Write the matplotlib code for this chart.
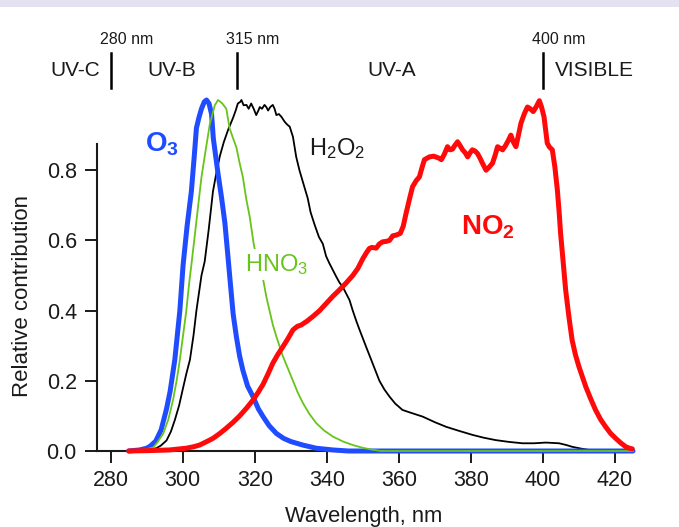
import matplotlib
matplotlib.use("Agg")
import matplotlib.pyplot as plt
from matplotlib.patches import Rectangle

FONT = "Liberation Sans"
plt.rcParams.update({
    "font.family": [FONT, "DejaVu Sans"],
    "mathtext.fontset": "custom",
    "mathtext.rm": FONT,
    "mathtext.it": FONT + ":italic",
    "mathtext.bf": FONT + ":bold",
    "mathtext.sf": FONT,
})

# ---------------- data ----------------
o3_wl = [285, 288, 290, 291, 292.5, 294, 295.5, 296.5, 297.8, 299.2, 300.1, 301.2,
         302.4, 303.2, 303.8, 304.5, 305.2, 306.0, 306.6, 307.3, 308.0, 308.5,
         309.8, 310.8, 311.7, 312.5, 313.2, 314.0, 314.9, 315.8, 316.7, 318.0,
         319.5, 321.0, 322.3, 324, 326, 328, 330, 333.3, 337, 341.6, 346, 425]
o3_val = [0, 0.003, 0.008, 0.014, 0.028, 0.06, 0.12, 0.17, 0.26, 0.40, 0.53, 0.64,
          0.74, 0.84, 0.92, 0.95, 0.975, 0.995, 1.0, 0.99, 0.96, 0.89,
          0.79, 0.72, 0.65, 0.56, 0.48, 0.39, 0.325, 0.27, 0.23, 0.185,
          0.155, 0.12, 0.098, 0.072, 0.05, 0.036, 0.027, 0.017, 0.008, 0.003, 0.0, 0.0]

hno3_wl = [285, 288, 290, 291.8, 293, 294.6, 296, 297.3, 298.3, 299.2, 300.1, 301,
           301.8, 302.4, 303.3, 304.3, 305.2, 306.1, 307.5, 308.9, 309.8, 311.0,
           312.1, 313, 314, 314.9, 315.8, 316.7, 317.6, 318.6, 319.7, 320.5, 321.4,
           322.3, 323.2, 324.1, 325, 326, 327.8, 329.2, 330.6, 332, 333.4, 335.2,
           337.1, 339.3, 341.7, 344.5, 347.2, 350, 352.5, 355, 425]
hno3_val = [0, 0.002, 0.005, 0.01, 0.025, 0.05, 0.09, 0.145, 0.2, 0.26, 0.33, 0.40,
            0.48, 0.53, 0.61, 0.70, 0.78, 0.84, 0.93, 0.985, 1.0, 0.99,
            0.975, 0.92, 0.89, 0.865, 0.82, 0.78, 0.72, 0.667, 0.59, 0.55, 0.52,
            0.49, 0.44, 0.40, 0.36, 0.326, 0.27, 0.235, 0.20, 0.165, 0.136, 0.105,
            0.079, 0.058, 0.041, 0.027, 0.017, 0.009, 0.004, 0.0, 0.0]

h2o2_wl = [285, 289, 291, 292.7, 294, 295.5, 296.7, 297.8, 299, 300.1, 301, 302,
           303, 303.8, 304.5, 305.2, 306.1, 307.2, 308.4, 309.3, 310.3, 311.4,
           312.6, 314, 314.7, 315.3, 316.0, 316.3, 316.9, 317.7, 318.3, 319,
           319.7, 320.4, 321, 321.4, 322, 322.7, 323.2, 323.7, 324.3, 325, 325.5,
           326, 326.7, 327.4, 328.3, 329, 329.7, 330.6, 331.5, 332.4, 333.4,
           334.7, 335.5, 336.6, 337.8, 338.9, 339.8, 340.7, 341.7, 342.6, 343.5,
           344.4, 345.3, 346.3, 347.2, 348.2, 349.1, 350.9, 352.7, 354.6, 356,
           357.4, 359, 361, 363, 366.6, 370, 373.1, 376.5, 380.4, 383.5, 386.9,
           390.5, 394.3, 397.5, 400.8, 404.5, 406.5, 408.1, 410.5, 412.8, 415, 425]
h2o2_val = [0, 0.002, 0.004, 0.008, 0.016, 0.03, 0.055, 0.088, 0.13, 0.18, 0.22, 0.26,
            0.33, 0.40, 0.45, 0.50, 0.54, 0.63, 0.74, 0.79, 0.84, 0.88,
            0.915, 0.95, 0.97, 0.99, 0.995, 1.0, 0.985, 0.986, 0.975, 0.99,
            0.975, 0.957, 0.97, 0.98, 0.975, 0.986, 0.98, 0.97, 0.98, 0.986, 0.975,
            0.957, 0.96, 0.952, 0.938, 0.93, 0.924, 0.895, 0.838, 0.80, 0.765,
            0.72, 0.68, 0.645, 0.61, 0.59, 0.555, 0.535, 0.515, 0.497, 0.48,
            0.468, 0.45, 0.43, 0.40, 0.37, 0.345, 0.297, 0.25, 0.20, 0.175,
            0.155, 0.135, 0.117, 0.11, 0.098, 0.082, 0.069, 0.058, 0.046, 0.038, 0.031,
            0.026, 0.022, 0.022, 0.024, 0.022, 0.017, 0.012, 0.007, 0.003, 0.0, 0.0]

no2_wl = [285, 290, 296.4, 301, 303, 304.7, 306.5, 308.4, 310.3, 312.1, 314, 315.8,
          317.7, 319.5, 321, 322.3, 323.7, 325, 326.4, 327.8, 329.2, 330.6, 331.8,
          332.9, 334.5, 336.1, 338, 339.8, 341.6, 343.5, 345.3, 347.2, 348.6, 350,
          351, 351.8, 352.5, 353.7, 354.6, 355.5, 356.4, 357.4, 358.3, 359.2, 360.4,
          361.2, 362, 363, 363.8, 364.8, 365.7, 366.5, 367.1, 368.5, 369.7, 371.2,
          371.8, 372.6, 373.5, 374.2, 374.9, 375.5, 376.3, 377, 377.7, 378.4, 379.1,
          379.8, 380.4, 381.1, 381.8, 382.5, 383.2, 384.2, 385, 386, 386.8, 387.4,
          388.2, 388.8, 389.6, 390.4, 391.1, 391.8, 392.5, 393.2, 393.9, 394.8,
          395.7, 396.5, 397.3, 398.1, 399, 399.6, 400.3, 400.8, 401.2, 401.8, 402.6,
          403.3, 404, 404.5, 404.9, 405.6, 406.3, 407.2, 408.1, 409, 410, 411, 411.9,
          413.2, 414.6, 416, 417.4, 418.8, 420.2, 421.6, 423, 424, 424.8]
no2_val = [0, 0.001, 0.003, 0.008, 0.012, 0.017, 0.026, 0.036, 0.05, 0.065, 0.082, 0.10,
           0.122, 0.145, 0.168, 0.19, 0.22, 0.25, 0.275, 0.297, 0.32, 0.345, 0.355,
           0.359, 0.37, 0.383, 0.40, 0.42, 0.44, 0.459, 0.478, 0.50, 0.52, 0.548,
           0.565, 0.577, 0.58, 0.578, 0.59, 0.596, 0.597, 0.60, 0.613, 0.615, 0.62,
           0.64, 0.677, 0.72, 0.753, 0.77, 0.781, 0.81, 0.83, 0.838, 0.84, 0.834,
           0.83, 0.845, 0.867, 0.858, 0.86, 0.87, 0.881, 0.87, 0.858, 0.85, 0.838,
           0.85, 0.858, 0.855, 0.848, 0.835, 0.82, 0.80, 0.808, 0.82, 0.845, 0.867,
           0.862, 0.858, 0.87, 0.885, 0.90, 0.88, 0.867, 0.9, 0.934, 0.96,
           0.98, 0.975, 0.967, 0.98, 0.998, 0.98, 0.952, 0.91, 0.877, 0.866, 0.858,
           0.81, 0.744, 0.68, 0.62, 0.54, 0.459, 0.383, 0.316, 0.275, 0.24, 0.21, 0.183,
           0.15, 0.117, 0.09, 0.069, 0.05, 0.036, 0.023, 0.012, 0.008, 0.006]

region_names = ["UV-C", "UV-B", "UV-A", "VISIBLE"]
region_bounds = [280, 315, 400]
x_ticks = [280, 300, 320, 340, 360, 380, 400, 420]
y_ticks = [0.0, 0.2, 0.4, 0.6, 0.8]

# ---------------- styling ----------------
BLUE = "#1f4cff"
RED = "#ff0a0a"
GREEN = "#66c41a"
INK = "#1a1a1a"

W, H = 679, 527
fig = plt.figure(figsize=(W / 100, H / 100), dpi=100)
fig.patches.append(Rectangle((0, 1 - 7 / H), 1, 7 / H, transform=fig.transFigure,
                             fc="#e4e2f1", ec="none", zorder=0))

ax = fig.add_axes([97 / W, 76 / H, 536 / W, 351 / H])
ax.set_xlim(276.2, 425)
ax.set_ylim(0, 1.0)

ax.plot(h2o2_wl, h2o2_val, color="black", lw=1.3, zorder=3, clip_on=False)
ax.plot(o3_wl, o3_val, color=BLUE, lw=3.6, zorder=4, clip_on=False,
        solid_joinstyle="round", solid_capstyle="round")
ax.plot(hno3_wl, hno3_val, color=GREEN, lw=1.3, zorder=5, clip_on=False)
ax.plot(no2_wl, no2_val, color=RED, lw=3.6, zorder=6, clip_on=False,
        solid_joinstyle="round", solid_capstyle="round")

# axes frame
for s in ("top", "right"):
    ax.spines[s].set_visible(False)
for s in ("left", "bottom"):
    ax.spines[s].set_linewidth(1.5)
    ax.spines[s].set_color(INK)
ax.spines["left"].set_bounds(0, 0.875)

ax.set_xticks(x_ticks)
ax.set_xticklabels([str(v) for v in x_ticks])
ax.set_yticks(y_ticks)
ax.set_yticklabels([f"{v:.1f}" for v in y_ticks])
ax.tick_params(axis="both", direction="out", length=8.5, width=1.4, color=INK,
               labelsize=15.5, labelcolor=INK)
ax.tick_params(axis="x", pad=5)
ax.tick_params(axis="y", pad=6)

fig.text(364 / W, (H - 522) / H, "Wavelength, nm", ha="center", va="baseline",
         fontsize=15.8, color=INK)
fig.text(22 / W, 1 - 296 / H, "Relative contribution", rotation=90,
         ha="center", va="center", fontsize=16, color=INK)

# spectral region markers above the plot
for b in region_bounds:
    ax.plot([b, b], [1.035, 1.135], color="black", lw=1.8, clip_on=False)
    ax.text(b + 4.5, 1.172, f"{b} nm", ha="center", va="center",
            fontsize=11.5, color=INK, clip_on=False)
name_x = [270.1, 297.0, 357.9, 414.4]
for name, xc in zip(region_names, name_x):
    ax.text(xc, 1.085, name, ha="center", va="center", fontsize=15,
            color=INK, clip_on=False)

# species labels
ax.text(289.6, 0.852, r"$\mathbf{O_3}$", color=BLUE, fontsize=20,
        ha="left", va="baseline", zorder=8)
ax.text(377.2, 0.618, r"$\mathbf{NO_2}$", color=RED, fontsize=20,
        ha="left", va="baseline", zorder=8)
ax.text(317.4, 0.513, r"$\mathrm{HNO_3}$", color=GREEN, fontsize=17,
        ha="left", va="baseline", zorder=8,
        bbox=dict(boxstyle="square,pad=0.12", fc="white", ec="none"))
ax.text(335.0, 0.843, r"$\mathrm{H_2O_2}$", color=INK, fontsize=17,
        ha="left", va="baseline", zorder=8)

fig.savefig("out.png", dpi=100)
